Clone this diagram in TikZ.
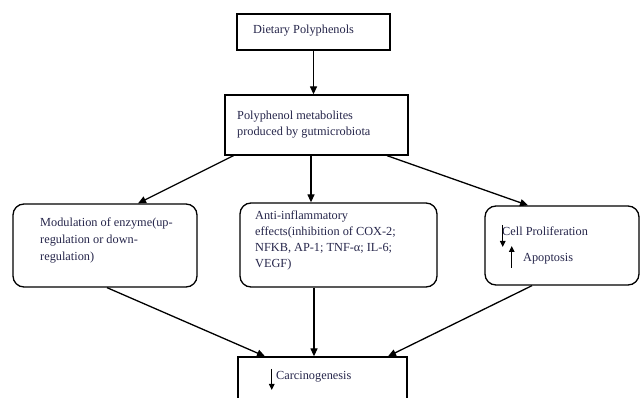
\documentclass[tikz,border=0pt]{standalone}
\usepackage{fontspec}
\setmainfont{Liberation Serif}
\usetikzlibrary{arrows.meta,calc}
\definecolor{txt}{HTML}{25254A}
\begin{document}
\begin{tikzpicture}[x=1pt,y=-1pt,
  box/.style={draw=black,line width=1.3pt,rectangle,inner sep=0pt},
  rbox/.style={box,rounded corners=11pt},
  lbl/.style={anchor=base west,inner sep=0pt,text=txt,font=\fontsize{12.3}{16}\selectfont},
  arr/.style={line width=1.3pt,-{Triangle[length=8pt,width=7pt]}},
  sarr/.style={line width=1.3pt,-{Triangle[length=6pt,width=5.5pt]}}]
\useasboundingbox (0,0) rectangle (641,398);
% boxes
\node[box,minimum width=153pt,minimum height=36pt] (b1) at (313.5,32) {};
\node[box,minimum width=183pt,minimum height=60pt] (b2) at (316.5,125) {};
\node[rbox,minimum width=184pt,minimum height=83pt] (b3) at (105,245.5) {};
\node[rbox,minimum width=197pt,minimum height=84pt] (b4) at (338.5,245) {};
\node[rbox,minimum width=154pt,minimum height=79pt] (b5) at (562,245.5) {};
\node[box,minimum width=169pt,minimum height=56pt] (b6) at (322.5,385) {};
% texts
\node[lbl] (t1) at (253,34) {Dietary Polyphenols};
\node[lbl] (t2a) at (237,120) {Polyphenol metabolites};
\node[lbl] (t2b) at (237,136) {produced by gutmicrobiota};
\node[lbl] (t3a) at (40,226.5) {Modulation of enzyme(up-};
\node[lbl] (t3b) at (40,243.5) {regulation or down-};
\node[lbl] (t3c) at (40,260.5) {regulation)};
\node[lbl] (t4a) at (255,220) {Anti-inflammatory};
\node[lbl] (t4b) at (255,235.5) {effects(inhibition of COX-2;};
\node[lbl] (t4c) at (255,251.5) {NFKB, AP-1; TNF-α; IL-6;};
\node[lbl] (t4d) at (255,267.5) {VEGF)};
\node[lbl] (t5a) at (502,235.5) {Cell Proliferation};
\node[lbl] (t5b) at (523,261.5) {Apoptosis};
\node[lbl] (t6) at (276,379.5) {Carcinogenesis};
% connectors
\draw[arr] (b1.south) -- (b1.south |- b2.north);
\draw[arr] ([xshift=-83pt]b2.south) -- ([xshift=33pt]b3.north);
\draw[arr] ([xshift=-5.5pt]b2.south) -- ([xshift=-27.5pt]b4.north);
\draw[arr] ([xshift=70.5pt]b2.south) -- ([xshift=-34pt]b5.north);
\draw[arr] ([xshift=2pt]b3.south) -- ([xshift=-57.5pt]b6.north);
\draw[arr] ([xshift=-24.5pt]b4.south) -- ([xshift=-8.5pt]b6.north);
\draw[arr] ([xshift=-30pt]b5.south) -- ([xshift=65.5pt]b6.north);
% small arrows
\coordinate (d1s) at (502.7,225);
\coordinate (d1e) at (502.7,247);
\coordinate (u1s) at (511.7,268);
\coordinate (u1e) at (511.7,246);
\coordinate (d2s) at (271.7,369);
\coordinate (d2e) at (271.7,390);
\draw[sarr] (d1s) -- (d1e);
\draw[sarr] (u1s) -- (u1e);
\draw[sarr] (d2s) -- (d2e);
\end{tikzpicture}
\end{document}
